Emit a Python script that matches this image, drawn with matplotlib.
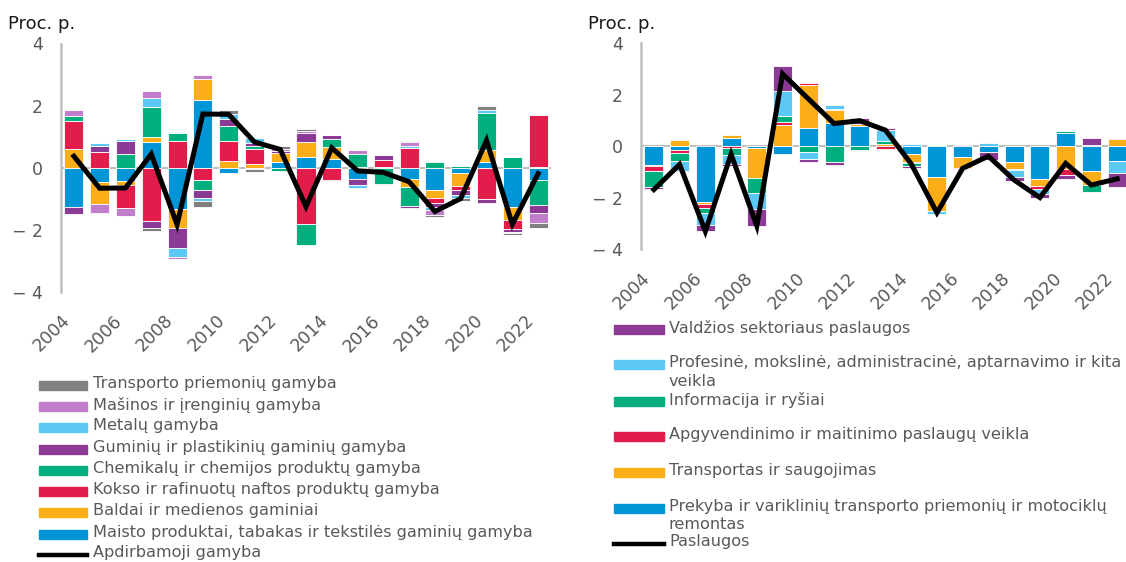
import matplotlib
matplotlib.use("Agg")
import matplotlib.pyplot as plt
from matplotlib.patches import Rectangle
from matplotlib.lines import Line2D
import numpy as np

plt.rcParams['font.family'] = ['DejaVu Sans']

years = list(range(2004, 2023))

# ---- Manufacturing (left) ----
man_labels = [
    "Maisto produktai, tabakas ir tekstilės gaminių gamyba",
    "Baldai ir medienos gaminiai",
    "Kokso ir rafinuotų naftos produktų gamyba",
    "Chemikalų ir chemijos produktų gamyba",
    "Guminių ir plastikinių gaminių gamyba",
    "Metalų gamyba",
    "Mašinos ir įrenginių gamyba",
    "Transporto priemonių gamyba",
]
maisto = [-1.25, -0.47, -0.44, 0.83, -1.32, 2.19, -0.16, 0.0, 0.18, 0.34, 0.27, -0.35, 0.0, -0.35, -0.71, -0.18, 0.18, -1.25, -0.39]
baldai = [0.59, -0.69, -0.13, 0.17, -0.61, 0.68, 0.21, 0.13, 0.30, 0.48, 0.40, 0.0, 0.04, -0.27, -0.27, -0.42, 0.38, -0.43, 0.04]
kokso = [0.91, 0.50, -0.71, -1.70, 0.86, -0.39, 0.65, 0.46, 0.0, -1.81, -0.39, 0.04, 0.22, 0.65, -0.14, -0.11, -1.00, -0.28, 1.65]
chemikalu = [0.15, 0.0, 0.45, 0.96, 0.26, -0.32, 0.50, 0.12, -0.12, -0.67, 0.24, 0.41, -0.52, -0.61, 0.19, 0.05, 1.20, 0.34, -0.82]
guminiu = [-0.24, 0.19, 0.41, -0.23, -0.66, -0.27, 0.20, 0.09, 0.07, 0.30, 0.16, -0.22, 0.14, -0.06, -0.15, -0.16, -0.12, -0.12, -0.25]
metalu = [0.0, 0.10, 0.06, 0.30, -0.27, -0.10, 0.17, 0.17, 0.0, 0.0, 0.0, -0.09, 0.0, 0.05, -0.08, -0.10, 0.09, 0.0, 0.04]
masinos = [0.22, -0.29, -0.28, 0.20, -0.09, 0.13, 0.0, -0.05, 0.06, 0.05, 0.0, 0.13, -0.05, 0.12, -0.17, 0.0, 0.0, -0.03, -0.33]
transporto = [0.0, 0.0, 0.0, -0.10, 0.02, -0.19, 0.14, -0.08, 0.10, 0.08, -0.05, 0.0, 0.0, 0.04, -0.08, -0.09, 0.15, -0.06, -0.14]
apdirbamoji = [0.37, -0.66, -0.65, 0.44, -1.83, 1.73, 1.72, 0.83, 0.59, -1.25, 0.64, -0.10, -0.15, -0.45, -1.41, -0.99, 0.88, -1.82, -0.19]
man_line_label = "Apdirbamoji gamyba"

# ---- Services (right) ----
srv_labels = [
    "Prekyba ir variklinių transporto priemonių ir motociklų\nremontas",
    "Transportas ir saugojimas",
    "Apgyvendinimo ir maitinimo paslaugų veikla",
    "Informacija ir ryšiai",
    "Profesinė, mokslinė, administracinė, aptarnavimo ir kita\nveikla",
    "Valdžios sektoriaus paslaugos",
]
prekyba = [-0.72, -0.14, -2.16, 0.31, -0.05, -0.31, 0.72, 0.92, 0.80, 0.0, -0.30, -1.19, -0.41, -0.22, -0.61, -1.28, 0.54, -0.94, -0.57]
transportas = [-0.06, 0.25, -0.06, 0.12, -1.19, 0.84, 1.67, 0.49, 0.06, 0.09, -0.32, -1.33, -0.43, 0.0, -0.27, -0.27, -0.88, -0.56, 0.30]
apgyvendinimo = [-0.16, -0.10, -0.19, -0.08, 0.0, 0.12, 0.06, 0.06, 0.0, -0.09, -0.03, 0.03, -0.04, 0.0, 0.0, -0.10, -0.25, 0.04, 0.02]
informacija = [-0.62, -0.34, -0.16, -0.26, -0.56, 0.22, -0.23, -0.62, -0.14, 0.13, -0.12, 0.03, 0.0, 0.0, -0.04, 0.0, 0.04, -0.28, 0.0]
profesine = [0.0, -0.36, -0.48, -0.35, -0.65, 0.98, -0.26, 0.15, 0.0, 0.41, 0.09, -0.12, 0.0, 0.12, -0.27, -0.19, 0.0, 0.0, -0.48]
valdzios = [-0.10, -0.04, -0.22, -0.06, -0.63, 0.96, -0.13, -0.10, 0.25, 0.09, -0.06, 0.0, 0.04, -0.30, -0.16, -0.17, -0.13, 0.28, -0.54]
paslaugos = [-1.68, -0.70, -3.30, -0.30, -3.09, 2.82, 1.85, 0.89, 1.00, 0.63, -0.68, -2.58, -0.85, -0.38, -1.31, -1.99, -0.66, -1.50, -1.26]
srv_line_label = "Paslaugos"

xtick_years = list(range(2004, 2023, 2))
yticks = [-4, -2, 0, 2, 4]
ytick_labels = ["− 4", "− 2", "0", "2", "4"]
unit_label = "Proc. p."

BLUE = "#0095D6"
ORANGE = "#FBAE17"
RED = "#E31D4B"
GREEN = "#00AE7E"
PURPLE = "#8B3A96"
LBLUE = "#5BC8F5"
LAV = "#C17FCB"
GREY = "#808080"
TXT = "#595959"
AXC = "#BFBFBF"

man_series = [maisto, baldai, kokso, chemikalu, guminiu, metalu, masinos, transporto]
man_colors = [BLUE, ORANGE, RED, GREEN, PURPLE, LBLUE, LAV, GREY]
srv_series = [prekyba, transportas, apgyvendinimo, informacija, profesine, valdzios]
srv_colors = [BLUE, ORANGE, RED, GREEN, LBLUE, PURPLE]

W, H = 1126, 562
fig = plt.figure(figsize=(W / 100, H / 100), dpi=100)


def px_axes(l, r, t, b):
    return fig.add_axes([l / W, 1 - b / H, (r - l) / W, (b - t) / H])


def draw(ax, series, colors, line):
    x = np.array(years, dtype=float)
    pos = np.zeros(len(years))
    neg = np.zeros(len(years))
    for vals, c in zip(series, colors):
        v = np.array(vals, dtype=float)
        bottoms = np.where(v >= 0, pos, neg)
        ax.bar(x, v, bottom=bottoms, width=0.74, color=c,
               edgecolor="white", linewidth=0.6, zorder=2)
        pos = pos + np.where(v >= 0, v, 0)
        neg = neg + np.where(v < 0, v, 0)
    ax.axhline(0, color=AXC, lw=1.5, zorder=1)
    ax.plot(x, line, color="black", lw=3.6, zorder=3, solid_joinstyle="miter")
    ax.set_ylim(-4, 4)
    ax.set_xlim(2003.5, 2022.5)
    ax.set_yticks(yticks)
    ax.set_yticklabels(ytick_labels)
    ax.set_xticks(xtick_years)
    ax.set_xticklabels([str(y) for y in xtick_years], rotation=45,
                       ha="right", va="top")
    for s in ["top", "right", "bottom"]:
        ax.spines[s].set_visible(False)
    ax.spines["left"].set_color(AXC)
    ax.spines["left"].set_linewidth(1.8)
    ax.tick_params(axis="y", length=0, pad=13, labelsize=12.5, labelcolor=TXT)
    ax.tick_params(axis="x", length=0, pad=14, labelsize=12.5, labelcolor=TXT)
    ax.set_facecolor("none")


ax1 = px_axes(61, 551, 43.5, 292)
draw(ax1, man_series, man_colors, apdirbamoji)
ax2 = px_axes(641, 1130, 43.5, 249.3)
draw(ax2, srv_series, srv_colors, paslaugos)

fig.text(8 / W, 1 - 29 / H, unit_label, ha="left", va="baseline", fontsize=13, color="#1a1a1a")
fig.text(588 / W, 1 - 29 / H, unit_label, ha="left", va="baseline", fontsize=13, color="#1a1a1a")

LFS = 11.6


def legend_entry(xp, xt, y, label, color, is_line=False, pw=48):
    if is_line:
        fig.lines.append(Line2D([xp / W, (xp + pw) / W], [1 - y / H, 1 - y / H],
                                transform=fig.transFigure, color="black", lw=3.2))
    else:
        fig.patches.append(Rectangle((xp / W, 1 - (y + 4.5) / H), pw / W, 9 / H,
                                     transform=fig.transFigure, color=color))
    fig.text(xt / W, 1 - (y - 9.5) / H, label, ha="left", va="top",
             fontsize=LFS, color=TXT, linespacing=1.3)


# left legend (top to bottom = reversed stacking order)
left_rows = [385.7, 406.7, 427.7, 449.3, 470.3, 491.3, 512.3, 534.0]
for y, lab, c in zip(left_rows, man_labels[::-1], man_colors[::-1]):
    legend_entry(39, 93, y, lab, c)
legend_entry(39, 93, 555.0, man_line_label, "black", is_line=True)

# right legend
right_rows = [329, 364.5, 401, 436.5, 472, 508]
for y, lab, c in zip(right_rows, srv_labels[::-1], srv_colors[::-1]):
    legend_entry(614, 669, y, lab, c, pw=50)
legend_entry(614, 669, 543.5, srv_line_label, "black", is_line=True, pw=50)

fig.savefig("out.png", dpi=100)
